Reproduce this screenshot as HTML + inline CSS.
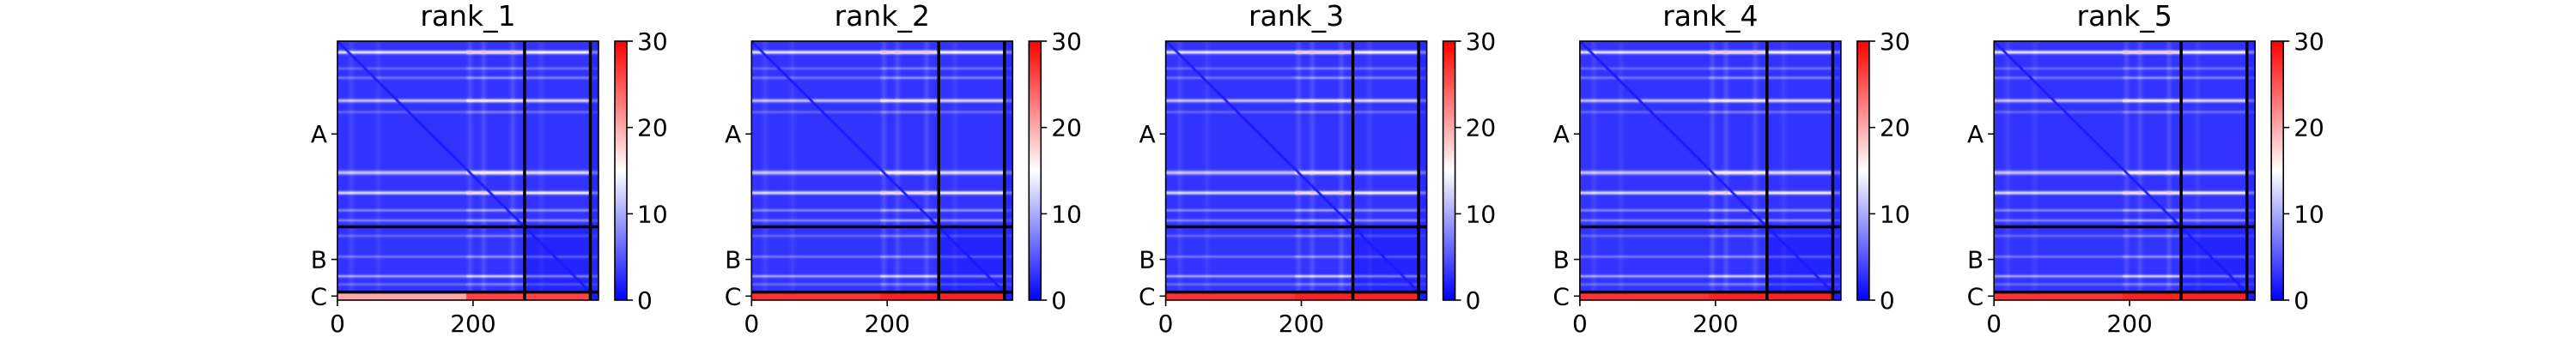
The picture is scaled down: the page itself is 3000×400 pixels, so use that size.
<!DOCTYPE html>
<html><head><meta charset="utf-8">
<style>
html,body{margin:0;padding:0;background:#fff;}
#root{position:relative;width:3000px;height:400px;overflow:hidden;font-family:"DejaVu Sans","Liberation Sans",sans-serif;}
canvas{position:absolute;}
svg{position:absolute;left:0;top:0;}
</style></head>
<body>
<div id="root">
<svg id="ov" width="3000" height="400"></svg>
</div>
<script>
// ---- data ----
const panelTitles = ["rank_1","rank_2","rank_3","rank_4","rank_5"];
const chainNames = ["A","B","C"];
const chainStarts = [0,276,373];
const chainEnds = [276,373,385];
const nRes = 385;
const xTickValues = [0,200];
const cbTickValues = [0,10,20,30];
const vmax = 30;
// horizontal (row) bands of elevated error
const bandCenters = [16,40,54,88,105,195,225,251,266,289,320,349,361];
const bandPeaks   = [14,4,5,11,4,11,13,6,6,4,5,9,4];
const bandWidths  = [2.5,2,2,2.5,2,3,2.5,2,2,2,2,2,2];
// vertical (column) modulation
const colSegStarts = [0,190,276,373];
const colSegScale  = [0.8,1.15,0.95,0.5];
const colStripeCenters = [20,60,195,215,258,300];
const colStripeValues  = [1,0.8,1.5,1.5,1.5,0.8];
// chain C row error per rank (left part, right part)
const cRowLeft  = [20,27,27,27,27];
const cRowRight = [26,28,28,28,28];

// ---- layout ----
const X0 = 393, PW = 304, Y0 = 48, PH = 302, DX = 482.3;
const CBX = 716, CBW = 14;
const NS = "http://www.w3.org/2000/svg";
const ov = document.getElementById('ov');
const root = document.getElementById('root');

function chainOf(i){ return i<276?0:(i<373?1:2); }
function colScale(j){ let s=colSegScale[0]; for(let k=0;k<colSegStarts.length;k++) if(j>=colSegStarts[k]) s=colSegScale[k]; return s; }
function rowVal(i){ let v=0; for(let k=0;k<bandCenters.length;k++){ const d=(i-bandCenters[k])/bandWidths[k]; v+=bandPeaks[k]*Math.exp(-d*d);} return v; }
function colVal(j){ let v=0; for(let k=0;k<colStripeCenters.length;k++){ const d=(j-colStripeCenters[k])/4; v+=colStripeValues[k]*Math.exp(-d*d);} return v; }
function bwr(v){
  const t=Math.max(0,Math.min(1,v/vmax));
  if(t<0.5){ const u=t/0.5; return [Math.round(255*u),Math.round(255*u),255]; }
  const u=(t-0.5)/0.5; return [255,Math.round(255*(1-u)),Math.round(255*(1-u))];
}
function value(p,i,j){
  const ci=chainOf(i), cj=chainOf(j);
  let v;
  if(ci===2){
    if(cj===2) v=2;
    else v = j<190 ? cRowLeft[p] : cRowRight[p];
  } else {
    v = 3 + rowVal(i)*colScale(j) + colVal(j);
    if(ci===cj && ci===1) v*=0.7;
    if(cj===2) v*=0.8;
  }
  if(Math.abs(i-j)<3) v=Math.min(v,1.5);
  return v;
}
function el(tag,attrs,parent){ const e=document.createElementNS(NS,tag); for(const k in attrs) e.setAttribute(k,attrs[k]); (parent||ov).appendChild(e); return e; }
function xs(v,px){ return px + v*PW/nRes; }
function ys(v){ return Y0 + v*PH/nRes; }

for(let p=0;p<panelTitles.length;p++){
  const px = X0 + p*DX;
  const off=document.createElement('canvas'); off.width=nRes; off.height=nRes;
  const octx=off.getContext('2d'); const img=octx.createImageData(nRes,nRes);
  for(let i=0;i<nRes;i++) for(let j=0;j<nRes;j++){
    const c=bwr(value(p,i,j)); const o=(i*nRes+j)*4;
    img.data[o]=c[0]; img.data[o+1]=c[1]; img.data[o+2]=c[2]; img.data[o+3]=255;
  }
  octx.putImageData(img,0,0);
  const cv=document.createElement('canvas');
  
  
  cv.width=PW; cv.height=PH; cv.style.left=px+'px'; cv.style.top=Y0+'px';
  const ctx=cv.getContext('2d'); ctx.imageSmoothingEnabled=true; ctx.drawImage(off,0,0,PW,PH);
  root.insertBefore(cv, ov);

  const g=el('g',{});
  
  
  [chainStarts[1],chainStarts[2]].forEach(b=>{
    const lv=el('line',{x1:xs(b,px),x2:xs(b,px),y1:Y0,y2:Y0+PH,stroke:'#000','stroke-width':3.5},g);
    
    
    const lh=el('line',{x1:px,x2:px+PW,y1:ys(b),y2:ys(b),stroke:'#000','stroke-width':3.5},g);
    
    
  });
  const fr=el('rect',{x:px,y:Y0,width:PW,height:PH,fill:'none',stroke:'#000','stroke-width':1.6},g);
  
  
  const t=el('text',{x:px+PW/2,y:30,'text-anchor':'middle','font-size':33,fill:'#000'},g);
  t.textContent=panelTitles[p];
  
  
  xTickValues.forEach(v=>{
    const x=xs(v,px);
    el('line',{x1:x,x2:x,y1:Y0+PH,y2:Y0+PH+7,stroke:'#000','stroke-width':1.6},g);
    const tl=el('text',{x:x,y:Y0+PH+37,'text-anchor':'middle','font-size':28},g);
    tl.textContent=v;
    
    
  });
  for(let c=0;c<chainNames.length;c++){
    const y=ys((chainStarts[c]+chainEnds[c])/2);
    el('line',{x1:px-7,x2:px,y1:y,y2:y,stroke:'#000','stroke-width':1.6},g);
    const tl=el('text',{x:px-12,y:y+10,'text-anchor':'end','font-size':28},g);
    tl.textContent=chainNames[c];
    
    
  }
  const cbx=CBX+p*DX;
  const gid='cbg'+p;
  const defs=el('defs',{},g);
  const lg=el('linearGradient',{id:gid,x1:0,y1:1,x2:0,y2:0},defs);
  el('stop',{offset:'0', 'stop-color':'rgb(0,0,255)'},lg);
  el('stop',{offset:'0.5','stop-color':'rgb(255,255,255)'},lg);
  el('stop',{offset:'1','stop-color':'rgb(255,0,0)'},lg);
  const cb=el('rect',{x:cbx,y:Y0,width:CBW,height:PH,fill:'url(#'+gid+')',stroke:'#000','stroke-width':1.6},g);
  
  
  cbTickValues.forEach(v=>{
    const y=Y0+PH-v/vmax*PH;
    el('line',{x1:cbx+CBW,x2:cbx+CBW+7,y1:y,y2:y,stroke:'#000','stroke-width':1.6},g);
    const tl=el('text',{x:cbx+CBW+12,y:y+10,'font-size':28},g);
    tl.textContent=v;
    
    
  });
}
</script>
</body></html>
